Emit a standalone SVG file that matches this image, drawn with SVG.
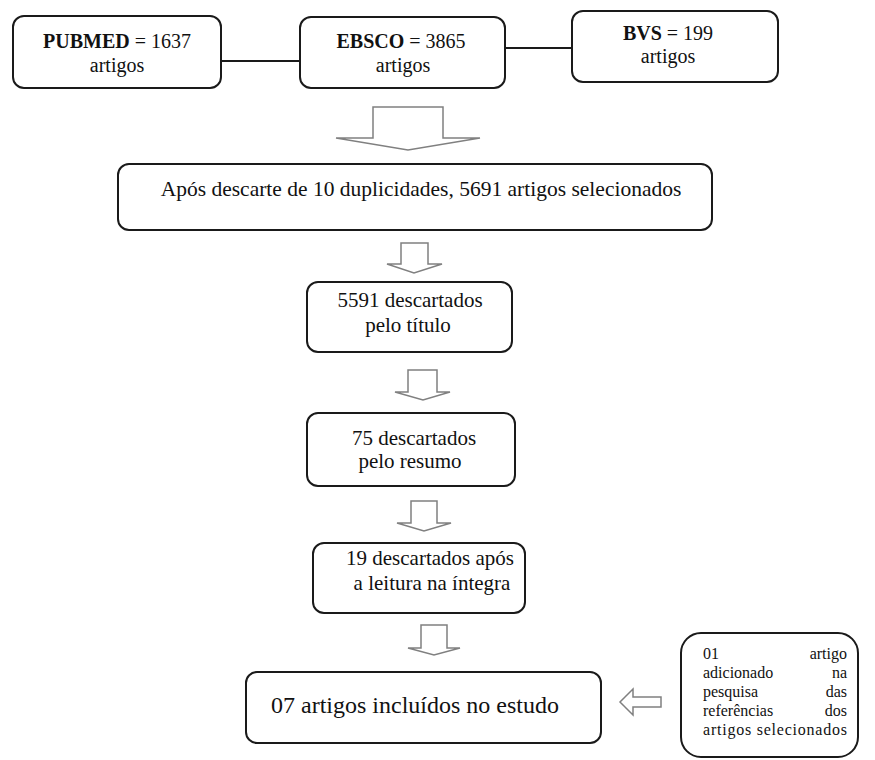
<svg xmlns="http://www.w3.org/2000/svg" width="875" height="760" viewBox="0 0 875 760">
<style>
.box{fill:#fff;stroke:#1a1a1a;stroke-width:2}
.arr{fill:#fff;stroke:#808080;stroke-width:1.5;stroke-linejoin:miter}
.ln{stroke:#1a1a1a;stroke-width:2;fill:none}
text{font-family:"Liberation Serif","Times New Roman",serif;fill:#111}
.t20{font-size:20px}
.t21{font-size:21px}
.t22{font-size:21.5px}
.t24{font-size:24px}
.t16{font-size:16px}
.c{text-anchor:middle}
.e{text-anchor:end}
.b{font-weight:bold}
</style>
<rect width="875" height="760" fill="#fff"/>
<g id="connectors">
<line class="ln" x1="222" y1="61" x2="300" y2="61"/>
<line class="ln" x1="505" y1="48" x2="572" y2="48"/>
<path class="arr" d="M373,107 H443 V138 H480 L408,150 L336,138 H373 Z"/>
<path class="arr" d="M401,243 H428 V264 H442 L414,273 L387,264 H401 Z"/>
<path class="arr" d="M408,370 H437 V392 H450 L423,400 L395,392 H408 Z"/>
<path class="arr" d="M411,501 H437 V523 H451 L424,531 L397,523 H411 Z"/>
<path class="arr" d="M421,625 H447 V648 H460 L434,655 L408,648 H421 Z"/>
<path class="arr" d="M661,697 V707 H633 V715 L620,702 L633,689 V697 Z"/>
</g>
<g id="pubmed">
<rect class="box" x="13" y="16" width="208" height="72" rx="11"/>
<text class="t20 c" x="117" y="48"><tspan class="b">PUBMED</tspan> = 1637</text>
<text class="t20 c" x="117" y="72">artigos</text>
</g>
<g id="ebsco">
<rect class="box" x="300" y="17" width="205" height="71" rx="11"/>
<text class="t20 c" x="401" y="48"><tspan class="b">EBSCO</tspan> = 3865</text>
<text class="t20 c" x="403" y="72">artigos</text>
</g>
<g id="bvs">
<rect class="box" x="572" y="11" width="206" height="71" rx="11"/>
<text class="t20 c" x="668" y="40"><tspan class="b">BVS</tspan> = 199</text>
<text class="t20 c" x="668" y="63">artigos</text>
</g>
<g id="selecionados">
<rect class="box" x="118" y="164" width="594" height="66" rx="11"/>
<text class="t22 c" x="421" y="196">Após descarte de 10 duplicidades, 5691 artigos selecionados</text>
</g>
<g id="titulo">
<rect class="box" x="307" y="282" width="205" height="70" rx="11"/>
<text class="t21 c" x="410" y="307">5591 descartados</text>
<text class="t21 c" x="408" y="332">pelo título</text>
</g>
<g id="resumo">
<rect class="box" x="307" y="413" width="208" height="73" rx="11"/>
<text class="t21 c" x="414" y="445">75 descartados</text>
<text class="t21 c" x="410" y="468">pelo resumo</text>
</g>
<g id="integra">
<rect class="box" x="313" y="543" width="212" height="70" rx="11"/>
<text class="t21 c" x="430" y="565">19 descartados após</text>
<text class="t21 c" x="432" y="590">a leitura na íntegra</text>
</g>
<g id="incluidos">
<rect class="box" x="246" y="672" width="355" height="71" rx="11"/>
<text class="t24" x="271" y="713">07 artigos incluídos no estudo</text>
</g>
<g id="adicionado">
<rect class="box" x="681" y="633" width="177" height="124" rx="20"/>
<text class="t16" x="703" y="659">01</text><text class="t16 e" x="847" y="659">artigo</text>
<text class="t16" x="703" y="678">adicionado</text><text class="t16 e" x="847" y="678">na</text>
<text class="t16" x="703" y="697">pesquisa</text><text class="t16 e" x="847" y="697">das</text>
<text class="t16" x="703" y="716">referências</text><text class="t16 e" x="847" y="716">dos</text>
<text class="t16" x="703" y="735" textLength="144" lengthAdjust="spacing">artigos selecionados</text>
</g>
</svg>
